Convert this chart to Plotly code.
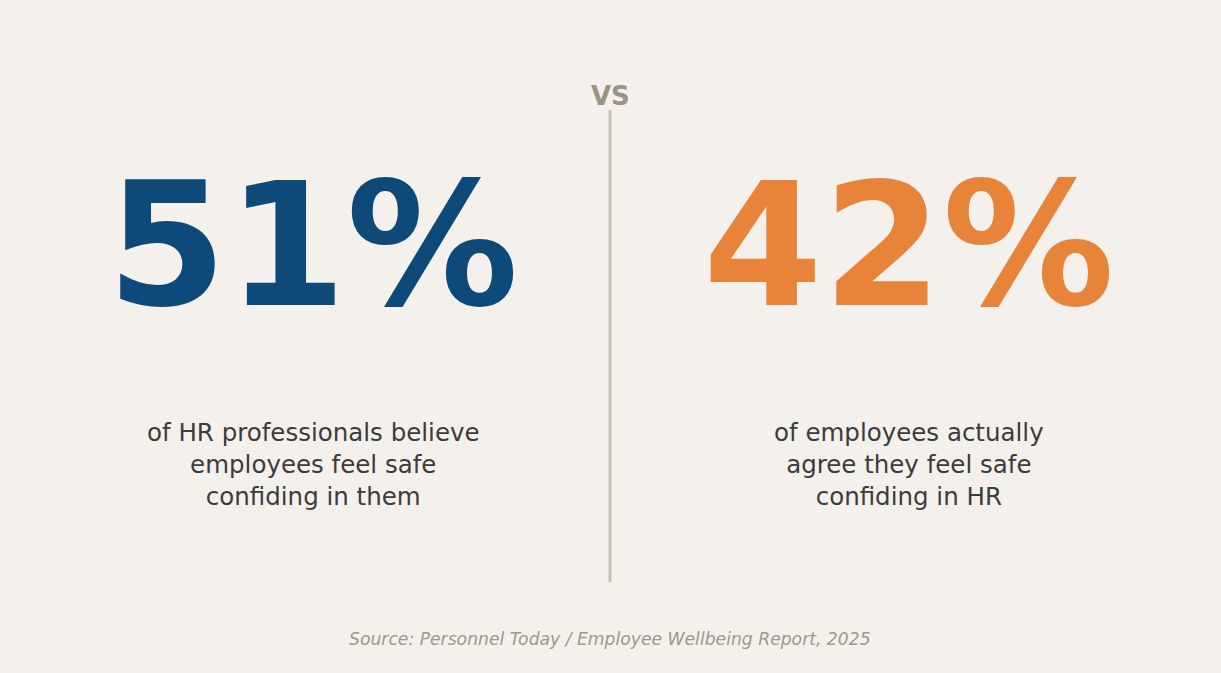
import plotly.graph_objects as go

# values shown on each side
values = [51, 42]
captions = [
    "of HR professionals believe<br>employees feel safe<br>confiding in them",
    "of employees actually<br>agree they feel safe<br>confiding in HR",
]
colors = ["#0D4A7A", "#E8833A"]
source = "Source: Personnel Today / Employee Wellbeing Report, 2025"

W, H = 1221, 673
centers = [313, 909]

fig = go.Figure()

annotations = []
for cx, v, cap, col in zip(centers, values, captions, colors):
    annotations.append(dict(
        x=cx, y=245, text="<b>%d%%</b>" % v, showarrow=False,
        xanchor="center", yanchor="middle",
        font=dict(family="DejaVu Sans", size=172, color=col),
    ))
    annotations.append(dict(
        x=cx, y=464, text=cap, showarrow=False,
        xanchor="center", yanchor="middle", align="center",
        font=dict(family="DejaVu Sans", size=24.5, color="#3C3C3C"),
    ))

annotations.append(dict(
    x=610, y=96, text="<b>VS</b>", showarrow=False,
    xanchor="center", yanchor="middle",
    font=dict(family="DejaVu Sans", size=26, color="#9B9384"),
))
annotations.append(dict(
    x=610, y=639, text="<i>%s</i>" % source, showarrow=False,
    xanchor="center", yanchor="middle",
    font=dict(family="DejaVu Sans", size=17.2, color="#A09889"),
))

fig.update_layout(
    width=W, height=H,
    margin=dict(l=0, r=0, t=0, b=0),
    paper_bgcolor="#F4F1EC",
    plot_bgcolor="#F4F1EC",
    xaxis=dict(range=[0, W], visible=False, fixedrange=True),
    yaxis=dict(range=[H, 0], visible=False, fixedrange=True),
    annotations=annotations,
    shapes=[dict(type="line", x0=610, x1=610, y0=110, y1=582,
                 line=dict(color="#C8BFB2", width=3))],
    showlegend=False,
)

# drop the default page margin so the figure fills the window
fig.write_html("out.html", config={"displayModeBar": False},
               post_script="document.body.style.margin='0';"
                           "document.body.style.background='#F4F1EC';")
